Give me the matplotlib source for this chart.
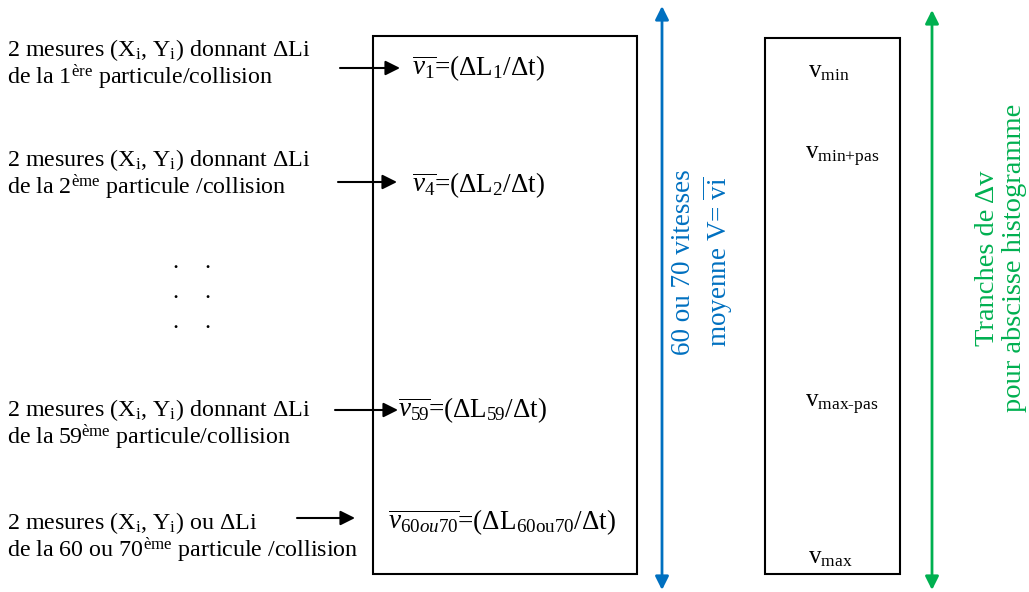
import matplotlib
matplotlib.use('Agg')
import matplotlib.pyplot as plt
from matplotlib import patches

# fonts: Times-like everywhere, math in the same family
plt.rcParams['font.family'] = ['Liberation Serif', 'DejaVu Serif']
plt.rcParams['mathtext.fontset'] = 'custom'
plt.rcParams['mathtext.rm'] = 'Liberation Serif'
plt.rcParams['mathtext.it'] = 'Liberation Serif:italic'
plt.rcParams['mathtext.bf'] = 'Liberation Serif:bold'

# texts of the diagram
left_labels = [
    'de la 1$^{\\mathrm{ère}}$ particule/collision',
    'de la 2$^{\\mathrm{ème}}$ particule /collision',
    'de la 59$^{\\mathrm{ème}}$ particule/collision',
    'de la 60 ou 70$^{\\mathrm{ème}}$ particule /collision',
]
first_lines = [
    '2 mesures (X$_{\\mathrm{i}}$, Y$_{\\mathrm{i}}$) donnant ΔLi',
    '2 mesures (X$_{\\mathrm{i}}$, Y$_{\\mathrm{i}}$) donnant ΔLi',
    '2 mesures (X$_{\\mathrm{i}}$, Y$_{\\mathrm{i}}$) donnant ΔLi',
    '2 mesures (X$_{\\mathrm{i}}$, Y$_{\\mathrm{i}}$) ou ΔLi',
]
mean_speeds = [
    '$\\overline{v_1}$=(ΔL$_{\\mathrm{1}}$/Δt)',
    '$\\overline{v_4}$=(ΔL$_{\\mathrm{2}}$/Δt)',
    '$\\overline{v_{59}}$=(ΔL$_{\\mathrm{59}}$/Δt)',
    '$\\overline{v_{60ou70}}$=(ΔL$_{\\mathrm{60ou70}}$/Δt)',
]
bins = ['v$_{\\text{min}}$', 'v$_{\\text{min+pas}}$',
        'v$_{\\text{max-pas}}$', 'v$_{\\text{max}}$']
blue_label = '60 ou 70 vitesses\nmoyenne V= $\\overline{\\mathrm{vi}}$'
green_label = 'Tranches de Δv\npour abscisse histogramme'

# layout (pixels)
block_y = [50, 160, 410, 523]
arrow_y = [68, 182, 410, 518]
arrow_x = [(340, 400), (338, 397), (335, 398), (297, 355)]
speed_xy = [(412, 68), (412, 185), (398, 410), (388, 522)]
bin_y = [72, 157, 405, 558]
bin_x = [808, 805, 805, 808]

blue = '#0070C0'
green = '#00B050'
fs = 17.3
fs_box = 19.5

fig = plt.figure(figsize=(10.29, 5.92), dpi=100)
ax = fig.add_axes([0, 0, 1, 1])
ax.set_xlim(0, 1029)
ax.set_ylim(592, 0)
ax.axis('off')

ax.add_patch(patches.Rectangle((373, 36), 264, 538, fill=False, lw=1.5, ec='black'))
ax.add_patch(patches.Rectangle((765, 38), 135, 536, fill=False, lw=1.5, ec='black'))

for y, l1, l2 in zip(block_y, first_lines, left_labels):
    ax.text(7, y, l1, fontsize=fs, va='center', ha='left')
    ax.text(7, y + 27, l2, fontsize=fs, va='center', ha='left')

for (x0, x1), y in zip(arrow_x, arrow_y):
    ax.annotate('', xy=(x1, y), xytext=(x0, y),
                arrowprops=dict(arrowstyle='-|>', color='black', lw=1.5,
                                mutation_scale=22, shrinkA=0, shrinkB=0))

for (x, y), s in zip(speed_xy, mean_speeds):
    ax.text(x, y, s, fontsize=fs_box, va='center', ha='left')

# dots between block 2 and 3
for y in [262, 292, 322]:
    for x in [175, 207]:
        ax.text(x, y, '.', fontsize=fs, ha='center', va='center')

for x, y, s in zip(bin_x, bin_y, bins):
    ax.text(x, y, s, fontsize=18, va='center', ha='left')

ax.annotate('', xy=(662, 6), xytext=(662, 590),
            arrowprops=dict(arrowstyle='<|-|>', color=blue, lw=2,
                            mutation_scale=20, shrinkA=0, shrinkB=0))
ax.annotate('', xy=(932, 10), xytext=(932, 590),
            arrowprops=dict(arrowstyle='<|-|>', color=green, lw=2,
                            mutation_scale=20, shrinkA=0, shrinkB=0))

ax.text(703, 262, blue_label, color=blue, fontsize=19.5, rotation=90,
        ha='center', va='center', multialignment='center', linespacing=1.15)
ax.text(1001, 258, green_label, color=green, fontsize=20.5, rotation=90,
        ha='center', va='center', multialignment='center', linespacing=1.1)

fig.savefig('out.png', dpi=100)
